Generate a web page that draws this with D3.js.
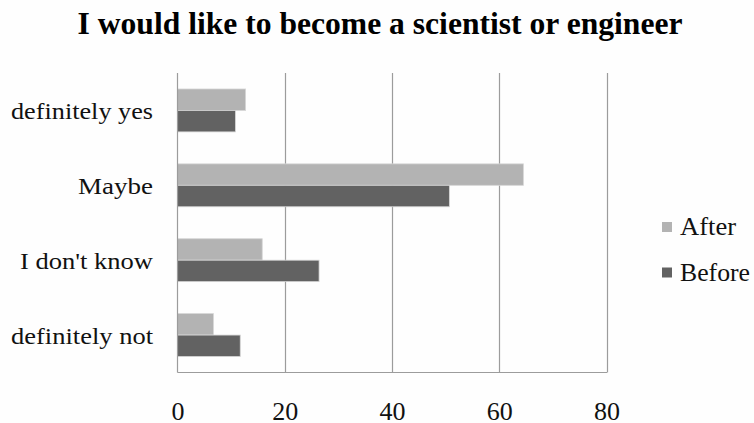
<!DOCTYPE html>
<html>
<head>
<meta charset="utf-8">
<script src="https://cdn.jsdelivr.net/npm/d3@7"></script>
<style>
  html, body { margin: 0; padding: 0; background: #fefefe; }
</style>
</head>
<body>
<svg id="chart" width="754" height="423"></svg>
<script>
// Survey responses (percent of students)
const categories = ["definitely yes", "Maybe", "I don't know", "definitely not"];
const labelWidths = [142, 75, 133, 142];
const seriesNames = ["After", "Before"];
const afterValues = [12.7, 64.5, 15.8, 6.7];
const beforeValues = [10.8, 50.7, 26.4, 11.7];
const tickValues = [0, 20, 40, 60, 80];
const seriesColors = ["#b3b3b3", "#626262"];

const FONT = "'Liberation Serif', 'Times New Roman', serif";
const svg = d3.select("#chart");
const W = 754, H = 423;
const plot = { left: 177.5, right: 606.5, top: 73, bottom: 372.5 };

svg.append("rect").attr("width", W).attr("height", H).attr("fill", "#fefefe");

const x = d3.scaleLinear().domain([0, 80]).range([plot.left, plot.right]);
const y = d3.scaleBand().domain(categories).range([plot.top, plot.bottom])
  .paddingInner(0.427).paddingOuter(0.2135);
const ySub = d3.scaleBand().domain(seriesNames).range([0, y.bandwidth()]);
const color = d3.scaleOrdinal().domain(seriesNames).range(seriesColors);

// Title
svg.append("text")
  .attr("x", 380).attr("y", 34)
  .attr("text-anchor", "middle")
  .style("font-family", FONT)
  .attr("font-size", 31).attr("font-weight", "bold")
  .attr("textLength", 605).attr("lengthAdjust", "spacingAndGlyphs")
  .attr("fill", "#000")
  .text("I would like to become a scientist or engineer");

// Vertical gridlines
svg.append("g").selectAll("line").data(tickValues.slice(1)).join("line")
  .attr("x1", d => Math.round(x(d)) + 0.5).attr("x2", d => Math.round(x(d)) + 0.5)
  .attr("y1", plot.top).attr("y2", plot.bottom)
  .attr("stroke", "#9c9c9c").attr("stroke-width", 1.2);

// Bars
const rows = categories.map((c, i) => ({ cat: c, values: [
  { key: "After", value: afterValues[i] },
  { key: "Before", value: beforeValues[i] }
]}));

const groups = svg.append("g").selectAll("g").data(rows).join("g")
  .attr("transform", d => `translate(0,${y(d.cat)})`);
groups.selectAll("rect").data(d => d.values).join("rect")
  .attr("x", x(0))
  .attr("y", d => ySub(d.key))
  .attr("width", d => x(d.value) - x(0))
  .attr("height", ySub.bandwidth())
  .attr("fill", d => color(d.key))
  .attr("stroke", "#d6d6d6").attr("stroke-width", 0.8);

// Axis lines (left and bottom)
svg.append("line")
  .attr("x1", plot.left).attr("x2", plot.left)
  .attr("y1", plot.top).attr("y2", plot.bottom)
  .attr("stroke", "#9c9c9c").attr("stroke-width", 1.2);
svg.append("line")
  .attr("x1", plot.left).attr("x2", plot.right + 0.5)
  .attr("y1", plot.bottom).attr("y2", plot.bottom)
  .attr("stroke", "#9c9c9c").attr("stroke-width", 1.2);

// X tick labels
const xAxis = d3.axisBottom(x).tickValues(tickValues).tickSize(0).tickPadding(0);
const xg = svg.append("g").attr("transform", `translate(0,${plot.bottom})`).call(xAxis);
xg.select(".domain").remove();
xg.selectAll("text")
  .attr("dy", null).attr("y", 47.5)
  .style("font-family", FONT)
  .attr("font-size", 25)
  .attr("textLength", d => d === 0 ? 13 : 26).attr("lengthAdjust", "spacingAndGlyphs")
  .attr("fill", "#111");

// Category labels
const yAxis = d3.axisLeft(y).tickSize(0).tickPadding(0);
const yg = svg.append("g").attr("transform", `translate(153,0)`).call(yAxis);
yg.select(".domain").remove();
yg.selectAll("text")
  .attr("dy", null).attr("y", 9)
  .style("font-family", FONT)
  .attr("font-size", 23)
  .attr("textLength", (d, i) => labelWidths[i]).attr("lengthAdjust", "spacingAndGlyphs")
  .attr("fill", "#111");

// Legend
const legendWidths = [56, 70];
const legend = svg.append("g").attr("transform", "translate(662,222)");
const items = legend.selectAll("g").data(seriesNames).join("g")
  .attr("transform", (d, i) => `translate(0,${i * 45.5})`);
items.append("rect").attr("width", 10).attr("height", 10).attr("fill", d => color(d));
items.append("text")
  .attr("x", 18).attr("y", 13)
  .style("font-family", FONT)
  .attr("font-size", 25).attr("fill", "#111")
  .attr("textLength", (d, i) => legendWidths[i]).attr("lengthAdjust", "spacingAndGlyphs")
  .text(d => d);
</script>
</body>
</html>
